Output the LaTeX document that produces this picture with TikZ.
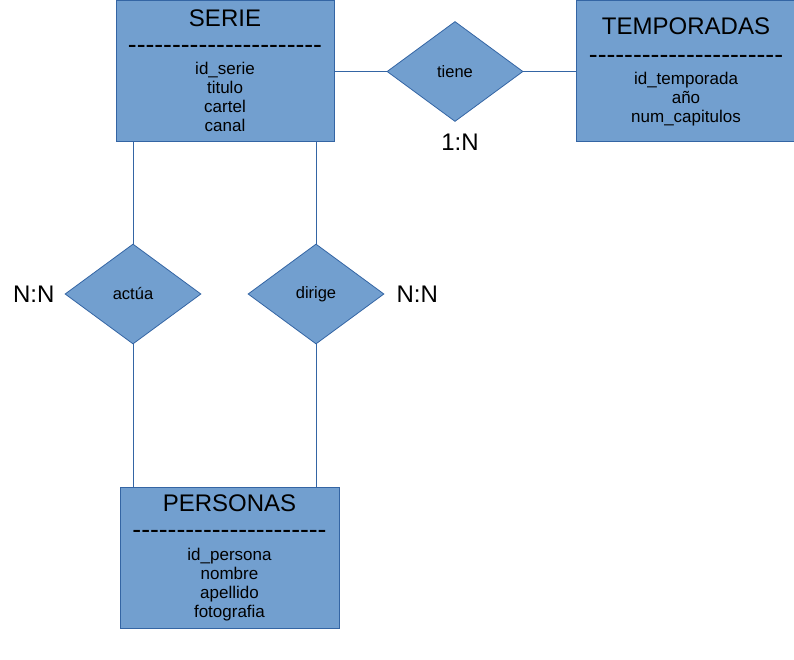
\documentclass[tikz,border=0pt]{standalone}
\usepackage{fontspec}
\newfontfamily\arial{Liberation Sans}
\usetikzlibrary{shapes.geometric,positioning}
\definecolor{relleno}{HTML}{729FCF}
\definecolor{borde}{HTML}{3465A4}
\tikzset{
  entidad/.style={draw=borde, fill=relleno, rectangle, line width=1pt, inner sep=0},
  relacion/.style={draw=borde, fill=relleno, diamond, line width=0.8pt, inner sep=0,
    minimum width=136pt, minimum height=100pt, font=\arial\fontsize{16.5}{19}\selectfont},
  titulo/.style={font=\arial\fontsize{24}{28}\selectfont, inner sep=0},
  guion/.style={font=\arial\fontsize{26.5}{28}\selectfont, inner sep=0},
  atributos/.style={font=\arial\fontsize{17}{19}\selectfont, align=center, inner sep=0, anchor=north},
  cardinal/.style={font=\arial\fontsize{24}{28}\selectfont, inner sep=0},
  linea/.style={draw=borde, line width=1pt}
}
\def\guiones{----------------------}
\begin{document}
\begin{tikzpicture}[x=1pt,y=-1pt]
\useasboundingbox (0,0) rectangle (794,660);
% entidades
\node[entidad, minimum width=218pt, minimum height=141pt] (serie) at (225,71.5) {};
\node[titulo] (serieT) at ([yshift=-17.5pt]serie.north) {SERIE};
\node[guion] (serieG) at ([yshift=-49pt]serie.north) {\guiones};
\node[atributos] (serieA) at ([yshift=-61pt]serie.north) {id\_serie\\titulo\\cartel\\canal};
\node[entidad, minimum width=220pt, minimum height=141pt] (temporadas) at (686,71.5) {};
\node[titulo] (temporadasT) at ([yshift=-26pt]temporadas.north) {TEMPORADAS};
\node[guion] (temporadasG) at ([yshift=-59pt]temporadas.north) {\guiones};
\node[atributos] (temporadasA) at ([yshift=-71pt]temporadas.north) {id\_temporada\\año\\num\_capitulos};
\node[entidad, minimum width=219pt, minimum height=141pt] (personas) at (229.5,557.5) {};
\node[titulo] (personasT) at ([yshift=-17pt]personas.north) {PERSONAS};
\node[guion] (personasG) at ([yshift=-48pt]personas.north) {\guiones};
\node[atributos] (personasA) at ([yshift=-61pt]personas.north) {id\_persona\\nombre\\apellido\\fotografia};
% relaciones
\node[relacion] (tiene) at (455,71.5) {tiene};
\node[relacion] (actua) at (133,294) {actúa};
\node[relacion] (dirige) at (316,294) {dirige};
\draw[linea] (serie.east) -- (tiene.west);
\draw[linea] (tiene.east) -- (temporadas.west);
\draw[linea] (serie.south -| actua.north) -- (actua.north);
\draw[linea] (actua.south) -- (actua.south |- personas.north);
\draw[linea] (serie.south -| dirige.north) -- (dirige.north);
\draw[linea] (dirige.south) -- (dirige.south |- personas.north);
% cardinalidades
\node[cardinal, below=12pt of tiene, xshift=5pt] (cardTiene) {1:N};
\node[cardinal, left=10pt of actua] (cardActua) {N:N};
\node[cardinal, right=12pt of dirige] (cardDirige) {N:N};
\end{tikzpicture}
\end{document}
